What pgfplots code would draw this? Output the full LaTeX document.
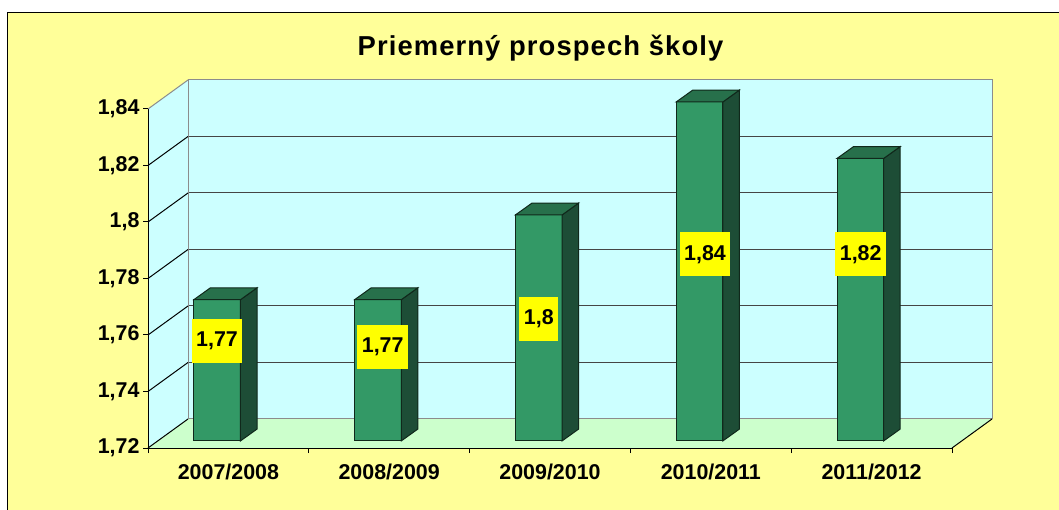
\documentclass[border=0pt]{standalone}
\usepackage{pgfplots}
\pgfplotsset{compat=1.18}
\usepackage{pgfplotstable}
\usepackage{fontspec}
\setmainfont{Liberation Sans}
\newfontfamily\titlefam[LetterSpace=4]{Liberation Sans}
\definecolor{bgyellow}{HTML}{FFFF99}
\definecolor{wallcyan}{HTML}{CCFFFF}
\definecolor{floorgreen}{HTML}{CCFFCC}
\definecolor{barfront}{HTML}{339966}
\definecolor{barside}{HTML}{1D4D36}
\definecolor{bartop}{HTML}{27704B}
\definecolor{baredge}{HTML}{10281B}
\definecolor{gridgray}{HTML}{454545}
\definecolor{wallgray}{HTML}{8C8C8C}
\definecolor{labelyellow}{HTML}{FFFF00}
\newcommand{\lab}{\fontsize{21.5}{25}\selectfont\bfseries}
\pgfplotstableread{
x y lab
0.4291 1.7580 1,77
1.4596 1.7558 1,77
2.4303 1.7658 1,8
3.4639 1.7886 1,84
4.4322 1.7886 1,82
}\labeldata
\begin{document}
\begin{tikzpicture}
\useasboundingbox (0,0) rectangle (1059bp,510bp);
\fill[white] (0,0) rectangle (1059bp,510bp);
\fill[bgyellow] (7.5bp,0) rectangle (1059bp,497.5bp);
\draw[black, line width=1.5bp] (7.5bp,0) -- (7.5bp,497.5bp) -- (1059bp,497.5bp);
% back wall
\begin{axis}[
  at={(188bp,91bp)}, anchor=south west,
  scale only axis, width=804bp, height=339bp,
  xmin=0, xmax=5, ymin=1.72, ymax=1.84,
  axis background/.style={fill=wallcyan},
  axis line style={draw=wallgray, line width=1bp},
  xtick=\empty, ytick={1.72,1.74,1.76,1.78,1.80,1.82,1.84},
  yticklabels={}, major tick length=0pt,
  ymajorgrids, grid style={draw=gridgray, line width=1bp},
]
\end{axis}
% front
\begin{axis}[
  at={(148bp,62bp)}, anchor=south west,
  scale only axis, width=804bp, height=339bp,
  xmin=0, xmax=5, ymin=1.72, ymax=1.84,
  clip=false, axis on top,
  axis x line*=bottom, axis y line*=left,
  axis line style={black, line width=1bp, -},
  xtick={0,1,2,3,4,5}, x tick label as interval,
  xticklabels={2007/2008,2008/2009,2009/2010,2010/2011,2011/2012},
  ytick={1.72,1.74,1.76,1.78,1.80,1.82,1.84},
  tick align=outside, major tick length=5bp,
  tick style={black, line width=1bp},
  ticklabel style={font=\lab},
  xticklabel style={yshift=-7bp},
  /pgf/number format/use comma,
  /pgf/number format/fixed,
  /pgf/number format/precision=2,
  /pgf/number format/assume math mode=true,
  title={Priemerný prospech školy},
  title style={font=\titlefam\bfseries\fontsize{27.5}{30}\selectfont, at={(axis description cs:0.4882,1.1395)}, anchor=base},
]
% left wall and floor
\addplot[fill=wallcyan, draw=none, mark=none] coordinates {(0,1.72) (0.2488,1.73027) (0.2488,1.85027) (0,1.84)} -- cycle;
\addplot[fill=floorgreen, draw=none, mark=none] coordinates {(0,1.72) (5,1.72) (5.2488,1.73027) (0.2488,1.73027)} -- cycle;
\addplot[draw=wallgray, line width=1bp, mark=none] coordinates {(0.2488,1.73027) (5.2488,1.73027)};
\addplot[draw=wallgray, line width=1bp, mark=none] coordinates {(0.2488,1.73027) (0.2488,1.85027)};
\addplot[draw=wallgray, line width=1bp, mark=none] coordinates {(0,1.84) (0.2488,1.85027)};
\addplot[draw=black, line width=1bp, mark=none] coordinates {(5,1.72) (5.2488,1.73027)};
\addplot[draw=black, line width=1bp, mark=none] coordinates {(0,1.72) (0.2488,1.73027)};
\addplot[draw=black, line width=1bp, mark=none] coordinates {(0,1.74) (0.2488,1.75027)};
\addplot[draw=black, line width=1bp, mark=none] coordinates {(0,1.76) (0.2488,1.77027)};
\addplot[draw=black, line width=1bp, mark=none] coordinates {(0,1.78) (0.2488,1.79027)};
\addplot[draw=black, line width=1bp, mark=none] coordinates {(0,1.80) (0.2488,1.81027)};
\addplot[draw=black, line width=1bp, mark=none] coordinates {(0,1.82) (0.2488,1.83027)};
% bars: front, side, top  (values 1.77, 1.77, 1.80, 1.84, 1.82)
\addplot[fill=barfront, draw=baredge, line width=1bp, mark=none] coordinates {(0.285,1.7225) (0.575,1.7225) (0.575,1.7725) (0.285,1.7725)} -- cycle;
\addplot[fill=barside, draw=baredge, line width=1bp, mark=none] coordinates {(0.575,1.7225) (0.678,1.7267) (0.678,1.7767) (0.575,1.7725)} -- cycle;
\addplot[fill=bartop, draw=baredge, line width=1bp, mark=none] coordinates {(0.285,1.7725) (0.575,1.7725) (0.678,1.7767) (0.388,1.7767)} -- cycle;

\addplot[fill=barfront, draw=baredge, line width=1bp, mark=none] coordinates {(1.285,1.7225) (1.575,1.7225) (1.575,1.7725) (1.285,1.7725)} -- cycle;
\addplot[fill=barside, draw=baredge, line width=1bp, mark=none] coordinates {(1.575,1.7225) (1.678,1.7267) (1.678,1.7767) (1.575,1.7725)} -- cycle;
\addplot[fill=bartop, draw=baredge, line width=1bp, mark=none] coordinates {(1.285,1.7725) (1.575,1.7725) (1.678,1.7767) (1.388,1.7767)} -- cycle;

\addplot[fill=barfront, draw=baredge, line width=1bp, mark=none] coordinates {(2.285,1.7225) (2.575,1.7225) (2.575,1.8025) (2.285,1.8025)} -- cycle;
\addplot[fill=barside, draw=baredge, line width=1bp, mark=none] coordinates {(2.575,1.7225) (2.678,1.7267) (2.678,1.8067) (2.575,1.8025)} -- cycle;
\addplot[fill=bartop, draw=baredge, line width=1bp, mark=none] coordinates {(2.285,1.8025) (2.575,1.8025) (2.678,1.8067) (2.388,1.8067)} -- cycle;

\addplot[fill=barfront, draw=baredge, line width=1bp, mark=none] coordinates {(3.285,1.7225) (3.575,1.7225) (3.575,1.8425) (3.285,1.8425)} -- cycle;
\addplot[fill=barside, draw=baredge, line width=1bp, mark=none] coordinates {(3.575,1.7225) (3.678,1.7267) (3.678,1.8467) (3.575,1.8425)} -- cycle;
\addplot[fill=bartop, draw=baredge, line width=1bp, mark=none] coordinates {(3.285,1.8425) (3.575,1.8425) (3.678,1.8467) (3.388,1.8467)} -- cycle;

\addplot[fill=barfront, draw=baredge, line width=1bp, mark=none] coordinates {(4.285,1.7225) (4.575,1.7225) (4.575,1.8225) (4.285,1.8225)} -- cycle;
\addplot[fill=barside, draw=baredge, line width=1bp, mark=none] coordinates {(4.575,1.7225) (4.678,1.7267) (4.678,1.8267) (4.575,1.8225)} -- cycle;
\addplot[fill=bartop, draw=baredge, line width=1bp, mark=none] coordinates {(4.285,1.8225) (4.575,1.8225) (4.678,1.8267) (4.388,1.8267)} -- cycle;
% value labels
\addplot[draw=none, mark=none, nodes near coords, nodes near coords align={center},
  point meta=explicit symbolic,
  every node near coord/.append style={fill=labelyellow, text=black, font=\lab, inner xsep=4.5bp, inner ysep=0pt, minimum height=44bp, anchor=center}]
  table[x=x, y=y, meta=lab] {\labeldata};
\end{axis}
\end{tikzpicture}
\end{document}
